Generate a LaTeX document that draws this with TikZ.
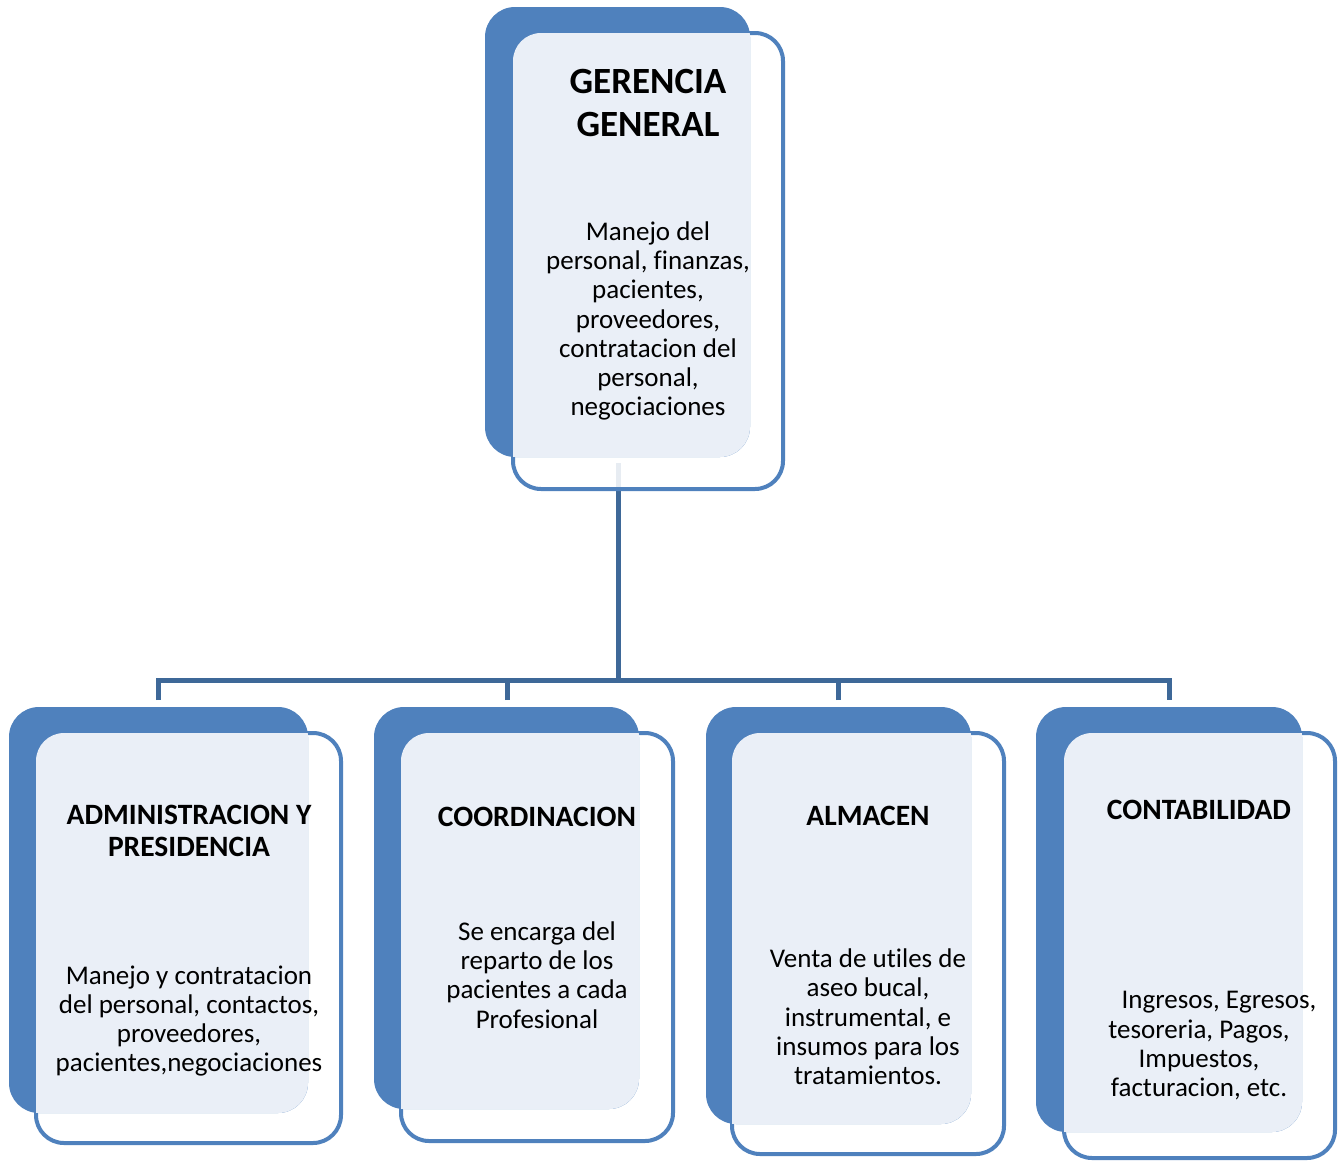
\documentclass[tikz,border=0pt]{standalone}
\usepackage{fontspec}
\setmainfont{Carlito}[Ligatures=NoCommon]
\definecolor{accent}{RGB}{79,129,189}
\definecolor{pale}{RGB}{234,239,247}
\definecolor{connc}{RGB}{62,104,152}
\tikzset{
  conn/.style={draw=connc, line width=5pt},
  title/.style={font=\fontsize{37}{43}\selectfont\bfseries, align=center, inner sep=0pt},
  head/.style={font=\fontsize{29.5}{32}\selectfont\bfseries, align=center, inner sep=0pt},
  body/.style={font=\fontsize{27}{29.3}\selectfont, align=center, inner sep=0pt},
  outl/.style={fill=white, fill opacity=0.88, draw=accent, draw opacity=1, line width=4pt, rounded corners=28pt},
  backfill/.style={fill=accent, rounded corners=30pt},
  frontfill/.style={fill=pale, rounded corners=30pt},
}
\newcommand\drawcard[8]{%
  \path[outl] (#5,#6) rectangle (#7,#8);
  \path[backfill] (#1,#2) rectangle (#3,#4);
  \begin{scope}
    \clip[rounded corners=28pt] (#5,#6) rectangle (#7,#8);
    \path[frontfill] (#1,#2) rectangle (#3,#4);
  \end{scope}}
\begin{document}
\begin{tikzpicture}[x=1pt,y=-1pt]
\useasboundingbox (0,0) rectangle (1342,1160);
% connector anchor points
\coordinate (ggbot) at (618,463);
\coordinate (bus) at (618,680);
\coordinate (t1) at (158,700);
\coordinate (t2) at (507,700);
\coordinate (t3) at (838,700);
\coordinate (t4) at (1169,700);
% connectors
\draw[conn] (ggbot) -- (bus);
\draw[conn] (t1) -- (t1 |- bus) -- (t4 |- bus) -- (t4);
\draw[conn] (t2) -- (t2 |- bus);
\draw[conn] (t3) -- (t3 |- bus);
% cards
\drawcard{485}{7}{750}{457}{513}{33}{783}{489}
\drawcard{9}{707}{308}{1113}{36}{733}{341}{1143}
\drawcard{374}{707}{639}{1109}{401}{733}{673}{1141}
\drawcard{706}{707}{971}{1124}{732}{733}{1004}{1154}
\drawcard{1036}{707}{1302}{1132}{1064}{733}{1335}{1158}
% texts
\node[title] (gg) at (648,103) {GERENCIA\\GENERAL};
\node[body] (ggtxt) at (648,321) {Manejo del\\personal, finanzas,\\pacientes,\\proveedores,\\contratacion del\\personal,\\negociaciones};
\node[head] (adm) at (189,831) {ADMINISTRACION Y\\PRESIDENCIA};
\node[body] (admtxt) at (189,1021) {Manejo y contratacion\\del personal, contactos,\\proveedores,\\pacientes,negociaciones};
\node[head] (coo) at (537,817) {COORDINACION};
\node[body] (cootxt) at (537,975) {Se encarga del\\reparto de los\\pacientes a cada\\Profesional};
\node[head] (alm) at (868,816) {ALMACEN};
\node[body] (almtxt) at (868,1017) {Venta de utiles de\\aseo bucal,\\instrumental, e\\insumos para los\\tratamientos.};
\node[head] (con) at (1199,810) {CONTABILIDAD};
\node[body] (contxt) at (1199,1046) {\hspace*{40pt}Ingresos, Egresos,\\tesoreria, Pagos,\\Impuestos,\\facturacion, etc.};
\end{tikzpicture}
\end{document}
